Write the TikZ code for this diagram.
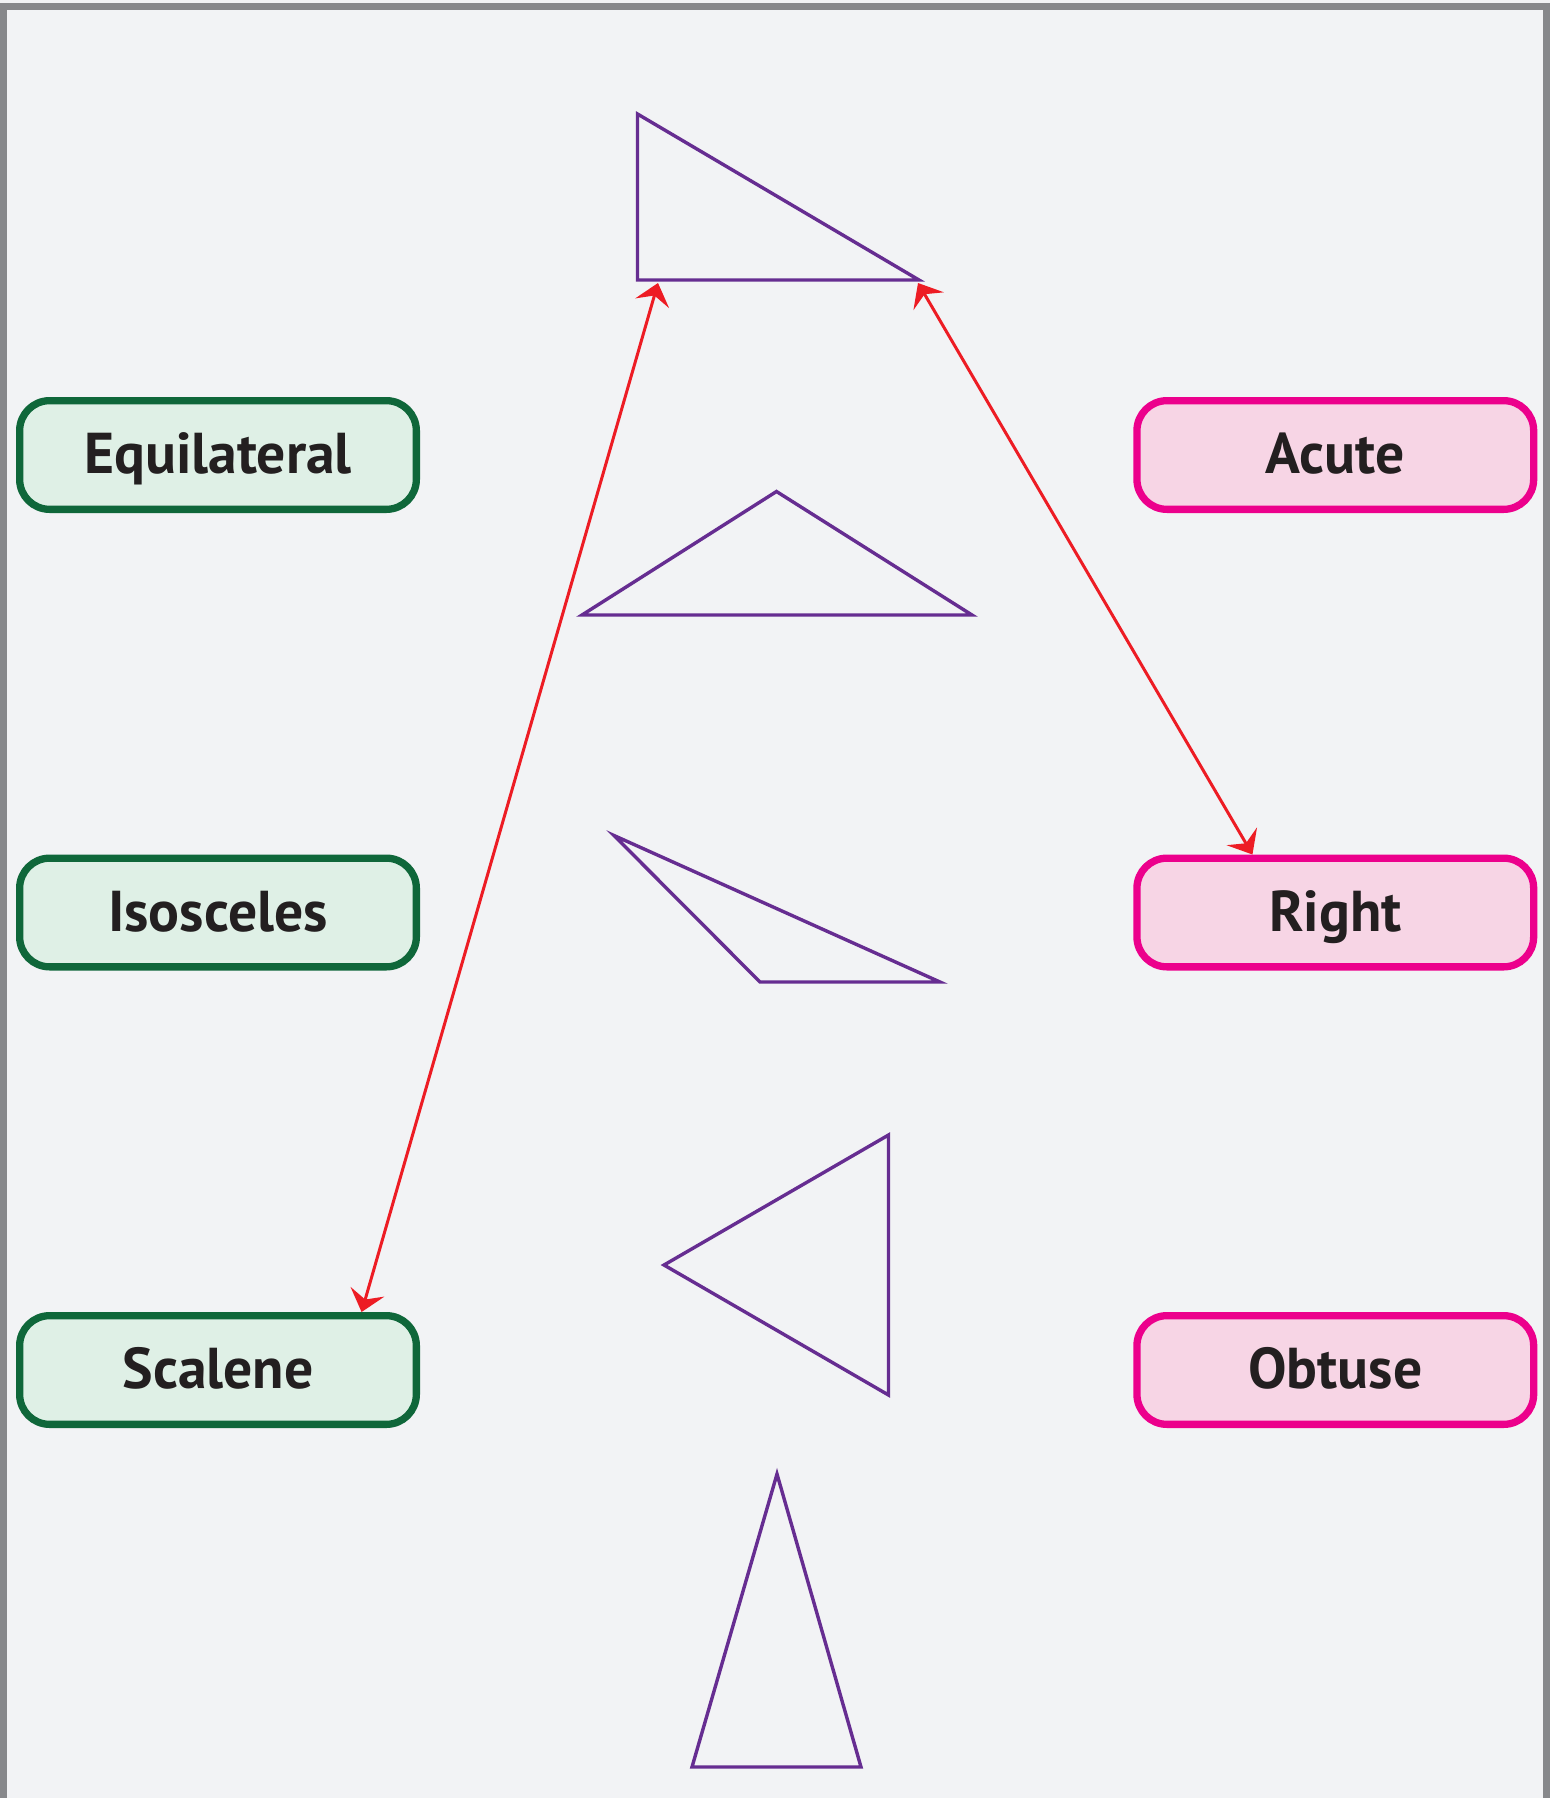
\documentclass[tikz,border=0pt]{standalone}
\usepackage{fontspec}
\setmainfont{PT Sans}
\usetikzlibrary{positioning,arrows.meta}
\definecolor{paper}{HTML}{F2F3F5}
\definecolor{framegray}{HTML}{87888B}
\definecolor{ink}{HTML}{231F20}
\definecolor{sideline}{HTML}{0F673A}
\definecolor{sidefill}{HTML}{DFF0E6}
\definecolor{angleline}{HTML}{EC008C}
\definecolor{anglefill}{HTML}{F7D5E5}
\definecolor{tripurple}{HTML}{662D91}
\definecolor{linkred}{HTML}{ED1C24}

\begin{document}
\begin{tikzpicture}[x=0.5pt, y=-0.5pt, node distance=170.75pt and 356.65pt,
    sidebox/.style={draw=sideline, fill=sidefill, line width=3.65pt, rounded corners=15pt,
        minimum width=198.35pt, minimum height=54.35pt, inner sep=0pt,
        text height=20pt, text depth=1.3pt, text=ink,
        font=\fontsize{28.8}{34}\selectfont\bfseries},
    anglebox/.style={sidebox, draw=angleline, fill=anglefill},
    tri/.style={draw=tripurple, line width=1.7pt},
    link/.style={draw=linkred, line width=1.5pt,
        {Stealth[length=10.5pt, width=17.5pt, inset=4pt]}-{Stealth[length=10.5pt, width=17.5pt, inset=4pt]}}]
    \fill[paper] (0,0) rectangle (1550,1798);
    \useasboundingbox (0,0) rectangle (1550,1798);
    \draw[framegray, line width=3.5pt] (3.5,1798) -- (3.5,6.5) -- (1546.5,6.5) -- (1546.5,1798);

    \node[sidebox] (box1) at (218,455) {Equilateral};
    \node[anglebox, right=of box1] (box2) {Acute};
    \node[sidebox, below=of box1] (box3) {Isosceles};
    \node[anglebox, below=of box2] (box4) {Right};
    \node[sidebox, below=of box3] (box5) {Scalene};
    \node[anglebox, below=of box4] (box6) {Obtuse};

    \draw[tri] (637.5,114) -- (637.5,280) -- (919,280) -- cycle;
    \draw[tri] (582,615) -- (776.5,491.5) -- (972,615) -- cycle;
    \draw[tri] (614,835.5) -- (760,982) -- (940,982) -- cycle;
    \draw[tri] (888.5,1135) -- (664,1265) -- (888.5,1395) -- cycle;
    \draw[tri] (777,1474) -- (692,1767) -- (861,1767) -- cycle;

    \coordinate (tip1) at (658,283);
    \coordinate (tip2) at (918,283);

    \draw[link] (box5.22) -- (tip1);
    \draw[link] (tip2) -- (box4.145);
\end{tikzpicture}
\end{document}
